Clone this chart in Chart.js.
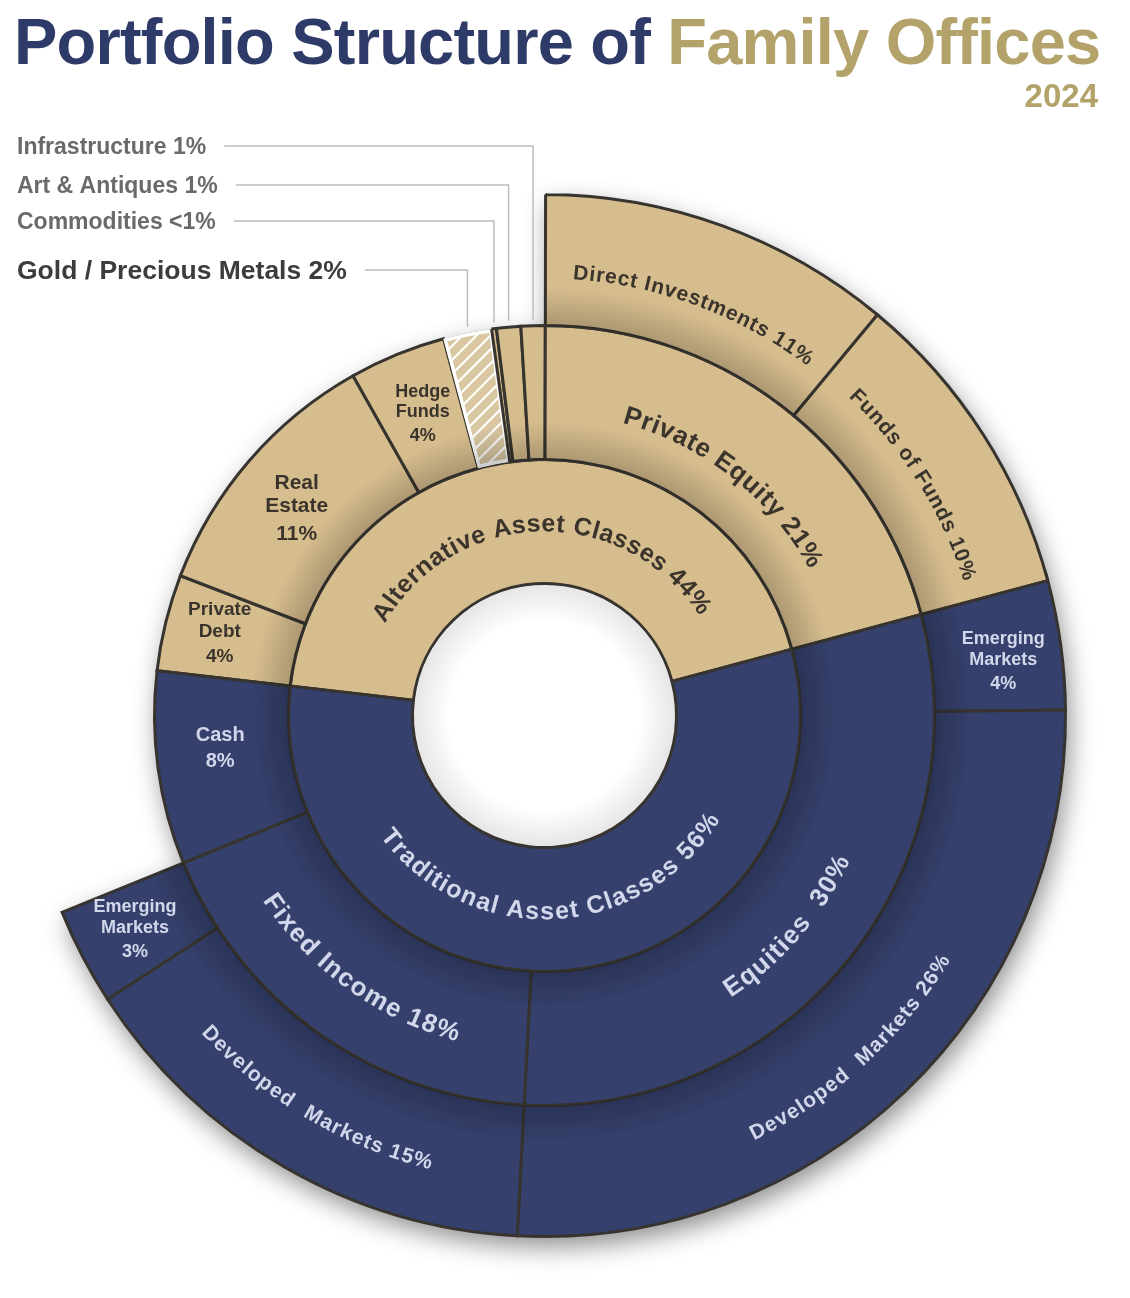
<!DOCTYPE html>
<html>
<head>
<meta charset="utf-8">
<title>Portfolio Structure of Family Offices</title>
<script src="https://cdn.jsdelivr.net/npm/chart.js@4.4.1/dist/chart.umd.min.js"></script>
<style>
  html, body { margin: 0; padding: 0; background: #fff; }
  body {
    width: 1130px; height: 1298px; position: relative; overflow: hidden;
    font-family: "Liberation Sans", Arial, sans-serif;
  }
  #chart { position: absolute; left: 0; top: 0; }
  h1 {
    position: absolute; left: 14px; top: 2px; margin: 0;
    font-size: 65px; line-height: 80px; font-weight: 700;
    letter-spacing: -0.8px; color: #2e3a67; white-space: nowrap;
  }
  h1 span { color: #b3a36b; }
  .year {
    position: absolute; right: 32px; top: 76px;
    font-size: 33px; line-height: 40px; font-weight: 700; color: #b3a36b;
  }
</style>
</head>
<body>
<canvas id="chart" width="1130" height="1298"></canvas>
<h1>Portfolio Structure of <span>Family Offices</span></h1>
<div class="year">2024</div>

<script>
// inner ring: the two asset class groups
const innerNames = ["Alternative Asset Classes 44%", "Traditional Asset Classes 56%"];
const innerValues = [44, 56];
const innerParent = [0, 1];

// middle ring: asset classes (Alternative first, clockwise from the left)
const middleNames = [
  "Private Debt 4%", "Real Estate 11%", "Hedge Funds 4%",
  "Gold / Precious Metals 2%", "Commodities <1%", "Art & Antiques 1%",
  "Infrastructure 1%", "Private Equity 21%",
  "Equities 30%", "Fixed Income 18%", "Cash 8%"
];
const middleValues = [4, 11, 4, 2, 0.2, 1, 1, 20.8, 30, 18, 8];
const middleParent = [0, 0, 0, 0, 0, 0, 0, 0, 1, 1, 1];

// outer ring: sub classes, "" = no breakdown (left empty)
const outerNames = [
  "", "Direct Investments 11%", "Funds of Funds 10%",
  "Emerging Markets 4%", "Developed Markets 26%",
  "Developed Markets 15%", "Emerging Markets 3%", ""
];
const outerValues = [23.2, 11, 9.8, 4, 26, 15, 3, 8];
const outerParent = [-1, 0, 0, 1, 1, 1, 1, -1];

const FONT = '"Liberation Sans", Arial, sans-serif';
const TAN = "#d6bd8e";
const NAVY = "#35406c";
const EDGE = "#37342f";
const TAN_TEXT = "#3a342c";
const NAVY_TEXT = "#d3d7eb";
const groupColors = [TAN, NAVY];

// how each label is written
const labelStyle = {
  "inner:0": { mode: "top", size: 25, r: 191, da: 2.8, ls: 1 },
  "inner:1": { mode: "bottom", size: 25, r: 197, da: 1.4, ls: 1 },
  "middle:0": { mode: "flat", size: 19, r: 335, da: 0.4 },
  "middle:1": { mode: "flat", size: 21, r: 323, da: -0.9 },
  "middle:2": { mode: "flat", size: 18, r: 325, da: 0.2 },
  "middle:3": { mode: "callout", size: 26.5, y: 272, color: "#3c3c3c" },
  "middle:4": { mode: "callout", size: 23, y: 223, color: "#6a6a6a" },
  "middle:5": { mode: "callout", size: 23, y: 187, color: "#6a6a6a" },
  "middle:6": { mode: "callout", size: 23, y: 148, color: "#6a6a6a" },
  "middle:7": { mode: "top", size: 26, r: 310, da: 0.4, ls: 1 },
  "middle:8": { mode: "bottom", size: 26, r: 331, da: 2.0, ls: 1, gap: 9 },
  "middle:9": { mode: "bottom", size: 26, r: 330, da: 0.5, ls: 1 },
  "middle:10": { mode: "flat", size: 20, r: 326, da: 2.0 },
  "outer:1": { mode: "top", size: 21, r: 443, da: 0.4, ls: 1 },
  "outer:2": { mode: "top", size: 21, r: 446, da: 0.6, ls: 1 },
  "outer:3": { mode: "flat", size: 18, r: 462, da: 1.1 },
  "outer:4": { mode: "bottom", size: 21, r: 468, da: 1.2, ls: 1, gap: 8 },
  "outer:5": { mode: "bottom", size: 21, r: 462, da: 0.7, ls: 1, gap: 8 },
  "outer:6": { mode: "flat", size: 18, r: 462, da: 0 }
};

function makeHatch() {
  const c = document.createElement("canvas");
  c.width = c.height = 14;
  const g = c.getContext("2d");
  g.fillStyle = "#d8c7a1";
  g.fillRect(0, 0, 14, 14);
  g.strokeStyle = "#ffffff";
  g.lineWidth = 2.2;
  g.beginPath();
  g.moveTo(0, 14); g.lineTo(14, 0);
  g.moveTo(-7, 7); g.lineTo(7, -7);
  g.moveTo(7, 21); g.lineTo(21, 7);
  g.stroke();
  return g.createPattern(c, "repeat");
}

const hatchIndex = middleNames.findIndex(n => n.startsWith("Gold"));
const hatch = makeHatch();

function sectorPath(ctx, arc) {
  ctx.moveTo(arc.x + arc.outerRadius * Math.cos(arc.startAngle),
             arc.y + arc.outerRadius * Math.sin(arc.startAngle));
  ctx.arc(arc.x, arc.y, arc.outerRadius, arc.startAngle, arc.endAngle);
  ctx.arc(arc.x, arc.y, arc.innerRadius, arc.endAngle, arc.startAngle, true);
  ctx.closePath();
}

// soft drop shadow under the whole sunburst
const ringShadow = {
  id: "ringShadow",
  beforeDatasetsDraw(chart) {
    const ctx = chart.ctx;
    const hole = chart.getDatasetMeta(2).data[0];
    ctx.save();
    ctx.beginPath();
    ctx.rect(0, 0, chart.width, chart.height);
    ctx.arc(hole.x, hole.y, hole.innerRadius - 1, 0, Math.PI * 2, true);
    ctx.clip();
    ctx.beginPath();
    chart.data.datasets.forEach((ds, di) => {
      chart.getDatasetMeta(di).data.forEach((arc, i) => {
        if (ds.parents[i] >= 0) sectorPath(ctx, arc);
      });
    });
    ctx.shadowColor = "rgba(0,0,0,0.45)";
    ctx.shadowBlur = 26;
    ctx.shadowOffsetX = 4;
    ctx.shadowOffsetY = 10;
    ctx.fillStyle = "#777";
    ctx.fill();
    ctx.restore();
  }
};

// darker band along the inside edge of the two outer rings
const ringShading = {
  id: "ringShading",
  afterDatasetDraw(chart, args) {
    const ds = chart.data.datasets[args.index];
    if (ds.ringKey === "inner") return;
    const ctx = chart.ctx;
    args.meta.data.forEach((arc, i) => {
      if (ds.parents[i] < 0) return;
      ctx.save();
      ctx.beginPath();
      sectorPath(ctx, arc);
      ctx.clip();
      const g = ctx.createRadialGradient(arc.x, arc.y, arc.innerRadius, arc.x, arc.y, arc.innerRadius + 38);
      g.addColorStop(0, "rgba(0,0,0,0.2)");
      g.addColorStop(1, "rgba(0,0,0,0)");
      ctx.fillStyle = g;
      ctx.fillRect(arc.x - arc.outerRadius, arc.y - arc.outerRadius, arc.outerRadius * 2, arc.outerRadius * 2);
      ctx.restore();
    });
  }
};

// text along an arc; "gap" widens only the first word break
function arcText(ctx, text, cx, cy, r, mid, flip, ls, gap) {
  const chars = [...text];
  const firstSpace = chars.indexOf(" ");
  const adv = chars.map((c, i) => ctx.measureText(c).width + ls + (i === firstSpace ? gap : 0));
  const total = adv.reduce((a, b) => a + b, 0) - ls;
  let a = flip ? mid + total / (2 * r) : mid - total / (2 * r);
  chars.forEach((c, i) => {
    const half = ctx.measureText(c).width / (2 * r);
    const ca = flip ? a - half : a + half;
    ctx.save();
    ctx.translate(cx + r * Math.cos(ca), cy + r * Math.sin(ca));
    ctx.rotate(flip ? ca - Math.PI / 2 : ca + Math.PI / 2);
    ctx.fillText(c, 0, 0);
    ctx.restore();
    a = flip ? a - adv[i] / r : a + adv[i] / r;
  });
}

const ringLabels = {
  id: "ringLabels",
  afterDatasetsDraw(chart) {
    const ctx = chart.ctx;
    const hole = chart.getDatasetMeta(2).data[0];

    // gentle inner shade of the centre hole
    ctx.save();
    ctx.beginPath();
    ctx.arc(hole.x, hole.y, hole.innerRadius - 1.5, 0, Math.PI * 2);
    ctx.clip();
    const hg = ctx.createRadialGradient(hole.x, hole.y, hole.innerRadius * 0.72, hole.x, hole.y, hole.innerRadius);
    hg.addColorStop(0, "rgba(0,0,0,0)");
    hg.addColorStop(1, "rgba(0,0,0,0.1)");
    ctx.fillStyle = hg;
    ctx.fillRect(hole.x - hole.innerRadius, hole.y - hole.innerRadius, hole.innerRadius * 2, hole.innerRadius * 2);
    ctx.restore();

    chart.data.datasets.forEach((ds, di) => {
      chart.getDatasetMeta(di).data.forEach((arc, i) => {
        const st = labelStyle[ds.ringKey + ":" + i];
        if (!st) return;
        const name = ds.names[i];
        const mid = (arc.startAngle + arc.endAngle) / 2 + (st.da || 0) * Math.PI / 180;
        ctx.save();
        ctx.fillStyle = st.color || (ds.parents[i] === 0 ? TAN_TEXT : NAVY_TEXT);
        ctx.font = "bold " + st.size + "px " + FONT;
        ctx.textAlign = "center";
        ctx.textBaseline = "middle";
        if (st.mode === "flat") {
          const lines = name.split(" ");
          const lh = st.size * 1.12;
          const h = lh * (lines.length - 1) + 4;
          const px = arc.x + st.r * Math.cos(mid);
          const py = arc.y + st.r * Math.sin(mid);
          lines.forEach((ln, k) => {
            const extra = k === lines.length - 1 ? 4 : 0;
            ctx.fillText(ln, px, py - h / 2 + k * lh + extra);
          });
        } else if (st.mode === "callout") {
          const tx = 17;
          ctx.textAlign = "left";
          ctx.fillText(name, tx, st.y);
          const w = ctx.measureText(name).width;
          const vx = arc.x + arc.outerRadius * Math.cos(mid);
          const rr = arc.outerRadius + 6;
          const vy = arc.y - Math.sqrt(rr * rr - (vx - arc.x) * (vx - arc.x));
          ctx.strokeStyle = "#bdbdbd";
          ctx.lineWidth = 1.5;
          ctx.beginPath();
          ctx.moveTo(tx + w + 18, st.y - 2);
          ctx.lineTo(vx, st.y - 2);
          ctx.lineTo(vx, vy);
          ctx.stroke();
        } else {
          arcText(ctx, name, arc.x, arc.y, st.r, mid, st.mode === "bottom", st.ls || 0, st.gap || 0);
        }
        ctx.restore();
      });
    });
  }
};

const chart = new Chart(document.getElementById("chart"), {
  type: "doughnut",
  data: {
    labels: outerNames,
    datasets: [
      {
        ringKey: "outer",
        names: outerNames,
        parents: outerParent,
        data: outerValues,
        weight: 131,
        backgroundColor: outerParent.map(p => p < 0 ? "rgba(0,0,0,0)" : groupColors[p]),
        borderColor: EDGE,
        borderWidth: outerParent.map(p => p < 0 ? 0 : 3),
        hoverBorderWidth: outerParent.map(p => p < 0 ? 0 : 3)
      },
      {
        ringKey: "middle",
        names: middleNames,
        parents: middleParent,
        data: middleValues,
        weight: 134,
        backgroundColor: middleParent.map((p, i) => i === hatchIndex ? hatch : groupColors[p]),
        borderColor: middleParent.map((p, i) => i === hatchIndex ? "#ffffff" : EDGE),
        borderAlign: middleParent.map((p, i) => i === hatchIndex ? "inner" : "center"),
        borderWidth: 3,
        hoverBorderWidth: 3
      },
      {
        ringKey: "inner",
        names: innerNames,
        parents: innerParent,
        data: innerValues,
        weight: 124,
        backgroundColor: innerParent.map(p => groupColors[p]),
        borderColor: EDGE,
        borderWidth: 3,
        hoverBorderWidth: 3
      }
    ]
  },
  options: {
    responsive: false,
    animation: false,
    events: [],
    rotation: -83.4,
    cutout: "25.34%",
    layout: { padding: { left: 22, top: 193, right: 63, bottom: 60 } },
    elements: { arc: { borderJoinStyle: "miter", hoverOffset: 0, offset: 0 } },
    plugins: {
      legend: { display: false },
      tooltip: { enabled: false }
    }
  },
  plugins: [ringShadow, ringShading, ringLabels]
});
</script>
</body>
</html>
